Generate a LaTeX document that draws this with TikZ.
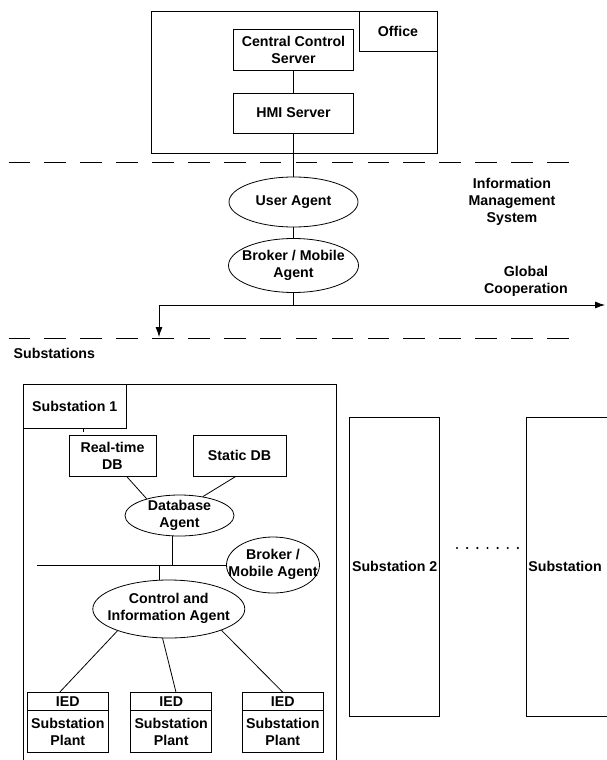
\documentclass[tikz,border=0pt]{standalone}
\usepackage{fontspec}
\setmainfont{Liberation Sans}
\usetikzlibrary{shapes.geometric,arrows.meta,positioning}
\newcommand{\agtext}[1]{\raisebox{-.5em}{\smash{\makebox[0pt]{\begin{tabular}{@{}c@{}}#1\end{tabular}}}}}

\begin{document}
\begin{tikzpicture}[x=1pt,y=-1pt,line width=0.8pt,
  font=\bfseries\fontsize{14.2}{17}\selectfont,
  frame/.style={draw,inner sep=0pt},
  srv/.style={draw,align=center,inner sep=0pt,minimum width=120,minimum height=41},
  db/.style={draw,align=center,inner sep=0pt,minimum height=41},
  agent/.style={draw,ellipse,inner sep=0pt},
  iedhd/.style={draw,inner sep=0pt,minimum width=81,minimum height=17.3},
  iedbd/.style={draw,align=center,inner sep=0pt,minimum width=81,minimum height=41.7},
  sep/.style={dash pattern=on 21.6pt off 14.3pt},
  arr/.style={-{Latex[length=10pt,width=7pt]}}]
\useasboundingbox (0,0) rectangle (606,760);

% office level
\node[frame,minimum width=286,minimum height=142] (office) at (294,82) {};
\node[frame,minimum width=78,minimum height=40,anchor=north east] (officelbl) at (office.north east) {Office};
\node[srv] (ccs) at (293.5,49.5) {Central Control\\Server};
\node[srv,minimum height=40] (hmi) at (293.5,113) {HMI Server};
\draw (ccs) -- (hmi);

\draw[sep] (8.5,162) -- (574,162);

% information management system
\node[agent,minimum width=129,minimum height=50] (ua) at (293.5,202) {\agtext{User Agent}};
\node[agent,minimum width=130,minimum height=54] (brk) at (293.5,265.5) {\agtext{Broker / Mobile\\Agent}};
\node[align=center] (ims) at (512,202) {Information\\Management\\System};
\node[align=center] (gc) at (526,281) {Global\\Cooperation};
\draw (hmi) -- (ua);
\draw (ua) -- (brk);

\coordinate (gcW) at (159,305);
\coordinate (gcE) at (605,305);
\coordinate (subIn) at (159,337);
\draw (brk) -- (brk |- gcW);
\draw[arr] (gcW) -- (gcE);
\draw[arr] (gcW) -- (subIn);

\draw[sep] (8.5,338.5) -- (574,338.5);
\node[anchor=west] (substs) at (10,353) {Substations};

% substation 1
\node[frame,minimum width=313.3,minimum height=420,anchor=north west] (sub1) at (22.7,384) {};
\node[frame,minimum width=103.3,minimum height=44,anchor=north west] (sub1lbl) at (sub1.north west) {Substation 1};
\draw (83,428) -- (83,432);

\node[db,minimum width=87] (rtdb) at (112.5,455.5) {Real-time\\DB};
\node[db,minimum width=93] (sdb) at (239.5,455.5) {Static DB};
\node[agent,minimum width=109,minimum height=41] (dba) at (179.5,515.5) {\agtext{Database\\Agent}};
\draw (rtdb.304) -- (dba.153);
\draw (sdb.260) -- (dba.39);

\node[agent,minimum width=93,minimum height=56] (brk2) at (273,565) {\agtext{Broker /\\Mobile Agent}};
\coordinate (busW) at (37,565);
\draw (brk2.west) -- (busW);
\draw (dba.251) -- (dba.251 |- brk2.west);

\node[agent,minimum width=152,minimum height=58] (ctrl) at (168.8,609) {\agtext{Control and\\Information Agent}};
\draw (ctrl.108) -- (ctrl.108 |- brk2.west);

\foreach \x [count=\i] in {67.8,171.2,282.8} {
  \node[iedhd] (ied\i) at (\x,701.3) {IED};
  \node[iedbd,below=0pt of ied\i] (plant\i) {Substation\\Plant};
}
\draw (ctrl.203) -- (ied1.132);
\draw (ctrl.258) -- (ied2.62);
\draw (ctrl.338) -- (ied3.north);

% other substations
\node[frame,minimum width=90,minimum height=299.3,anchor=north west] (sub2) at (349.3,416.7) {Substation 2};
\node[draw,anchor=north west,minimum height=299.3,text width=92,inner xsep=2,inner ysep=0,align=left] (subn) at (526,416.7) {Substation};
\foreach \i in {0,...,6}
  \fill (457+\i*10.15,548) circle (1.2pt);

\end{tikzpicture}
\end{document}
